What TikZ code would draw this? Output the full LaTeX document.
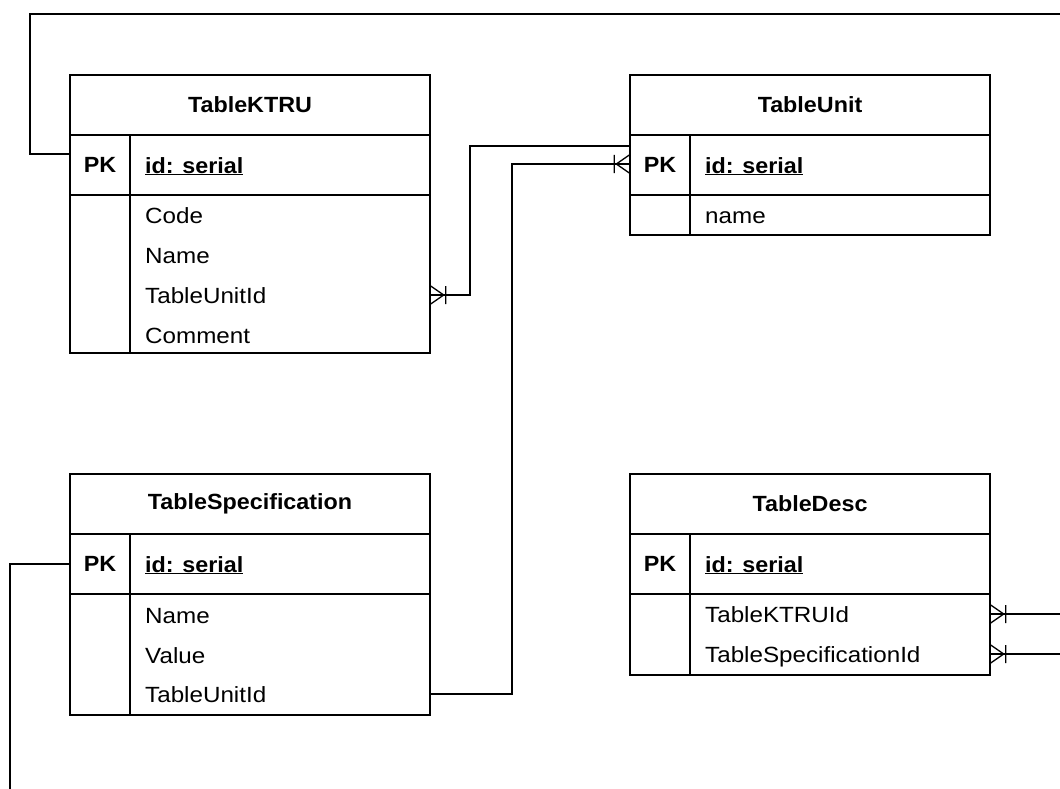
\documentclass[tikz,border=0pt]{standalone}
\usepackage{fontspec}
\setmainfont{Liberation Sans}[FakeStretch=1.1, BoldFeatures={FakeStretch=1.06}]
\begin{document}
\begin{tikzpicture}[x=1pt,y=-1pt,
  tbl/.style={draw=black, line width=1.4pt, inner sep=0pt, minimum width=360pt},
  rule/.style={draw=black, line width=1.4pt},
  link/.style={draw=black, line width=1.4pt},
  ttl/.style={inner sep=0pt, font=\fontsize{22}{26}\selectfont\bfseries},
  pkcell/.style={inner sep=0pt, font=\fontsize{22}{26}\selectfont\bfseries},
  keyfld/.style={anchor=west, inner sep=0pt, text height=16pt, text depth=0pt,
    font=\fontsize{22}{26}\selectfont\bfseries},
  fld/.style={anchor=west, inner sep=0pt, text height=16pt, text depth=0pt,
    font=\fontsize{22}{26}\selectfont},
  crowfoot/.pic={
    \draw[line width=1.3pt] (0,-9) -- (13,0) -- (0,9) (0,0) -- (13,0) (15,-9) -- (15,9);
  }]
\useasboundingbox (0,0) rectangle (1060,789);

% ---- TableKTRU ----
\node[tbl, minimum height=278pt] (ktru) at (250,214) {};
\draw[rule] (70,135) -- (430,135) (70,195) -- (430,195) (130,135) -- (130,353);
\node[ttl] (ktru-title) at (250,105) {TableKTRU};
\node[pkcell] (ktru-pklabel) at (100,165) {PK};
\node[keyfld] (ktru-pk) at (145,165) {\underline{id: serial}};
\node[fld] (ktru-code) at (145,215) {Code};
\node[fld] (ktru-name) at (145,255) {Name};
\node[fld] (ktru-unitid) at (145,295) {TableUnitId};
\node[fld] (ktru-comment) at (145,335) {Comment};

% ---- TableUnit ----
\node[tbl, minimum height=160pt] (unit) at (810,155) {};
\draw[rule] (630,135) -- (990,135) (630,195) -- (990,195) (690,135) -- (690,235);
\node[ttl] (unit-title) at (810,105) {TableUnit};
\node[pkcell] (unit-pklabel) at (660,165) {PK};
\node[keyfld] (unit-pk) at (705,165) {\underline{id: serial}};
\node[fld] (unit-name) at (705,215) {name};

% ---- TableSpecification ----
\node[tbl, minimum height=241pt] (spec) at (250,594.5) {};
\draw[rule] (70,534) -- (430,534) (70,594) -- (430,594) (130,534) -- (130,715);
\node[ttl] (spec-title) at (250,504) {TableSpecification};
\node[pkcell] (spec-pklabel) at (100,564) {PK};
\node[keyfld] (spec-pk) at (145,564) {\underline{id: serial}};
\node[fld] (spec-name) at (145,615) {Name};
\node[fld] (spec-value) at (145,655) {Value};
\node[fld] (spec-unitid) at (145,694) {TableUnitId};

% ---- TableDesc ----
\node[tbl, minimum height=201pt] (desc) at (810,574.5) {};
\draw[rule] (630,534) -- (990,534) (630,594) -- (990,594) (690,534) -- (690,675);
\node[ttl] (desc-title) at (810,504) {TableDesc};
\node[pkcell] (desc-pklabel) at (660,564) {PK};
\node[keyfld] (desc-pk) at (705,564) {\underline{id: serial}};
\node[fld] (desc-ktruid) at (705,614) {TableKTRUId};
\node[fld] (desc-specid) at (705,654) {TableSpecificationId};

% ---- bend points and free ends ----
\coordinate (loopTop) at (30,14);
\coordinate (loopEnd) at (1060,14);
\coordinate (j1) at (470,146);
\coordinate (j2) at (512,164);
\coordinate (downEnd) at (10,789);
\coordinate (e1) at (1060,614);
\coordinate (e2) at (1060,654);

% ---- relations ----
\draw[link] ([yshift=11pt]ktru.west |- ktru-pk) -| (loopTop) -- (loopEnd);
\draw[link] (ktru.east |- ktru-unitid) -| (j1) -- (unit.west |- j1);
\draw[link] (spec.east |- spec-unitid) -| (j2) -- (unit.west |- j2);
\draw[link] (spec.west |- spec-pk) -| (downEnd);
\draw[link] (desc.east |- desc-ktruid) -- (e1);
\draw[link] (desc.east |- desc-specid) -- (e2);

% ---- crow's feet ----
\pic at (ktru.east |- ktru-unitid) {crowfoot};
\pic[rotate=180] at (unit.west |- j2) {crowfoot};
\pic at (desc.east |- desc-ktruid) {crowfoot};
\pic at (desc.east |- desc-specid) {crowfoot};
\end{tikzpicture}
\end{document}
